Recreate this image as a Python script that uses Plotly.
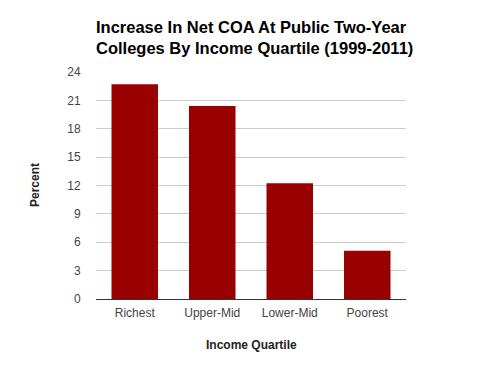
import plotly.graph_objects as go

categories = ["Richest", "Upper-Mid", "Lower-Mid", "Poorest"]
values = [22.7, 20.4, 12.25, 5.1]
y_ticks = [0, 3, 6, 9, 12, 15, 18, 21, 24]

fig = go.Figure(go.Bar(x=categories, y=values, marker_color="#990000", marker_line_width=0))

font = "Liberation Sans, Arial, sans-serif"
L, R, T, B = 96, 406, 72, 299
fig.update_layout(
    width=501, height=371,
    margin=dict(l=L, r=501 - R, t=T, b=371 - B),
    paper_bgcolor="white", plot_bgcolor="white",
    bargap=0.4,
    showlegend=False,
    title=dict(
        text="<b>Increase In Net COA At Public Two-Year<br>Colleges By Income Quartile (1999-2011)</b>",
        x=96/501, xanchor="left", xref="container",
        y=1 - 33/371, yanchor="top", yref="container",
        font=dict(family=font, size=16.5, color="#000000"),
    ),
    font=dict(family=font, size=12, color="#444444"),
)
fig.update_xaxes(
    showline=True, linecolor="#333333", linewidth=1,
    ticks="outside", ticklen=3, tickcolor="rgba(0,0,0,0)",
    tickfont=dict(family=font, size=12, color="#444444"),
    showgrid=False,
)
fig.update_yaxes(
    range=[0, 24], tickvals=y_ticks,
    showgrid=True, gridcolor="#cccccc", gridwidth=1,
    zeroline=False, showline=False,
    ticks="outside", ticklen=12, tickcolor="rgba(0,0,0,0)",
    tickfont=dict(family=font, size=12, color="#444444"),
)
W, H = R - L, B - T
fig.add_annotation(text="<b>Percent</b>", x=(35 - L) / W, y=(B - 185) / H,
                   xref="paper", yref="paper", xanchor="center", yanchor="middle",
                   showarrow=False, textangle=-90, font=dict(family=font, size=12, color="#222222"))
fig.add_annotation(text="<b>Income Quartile</b>", x=(251 - L) / W, y=(B - 345) / H,
                   xref="paper", yref="paper", xanchor="center", yanchor="middle",
                   showarrow=False, font=dict(family=font, size=12, color="#222222"))
fig.write_html("out.html", config={"displayModeBar": False},
               post_script="document.body.style.margin='0';")
